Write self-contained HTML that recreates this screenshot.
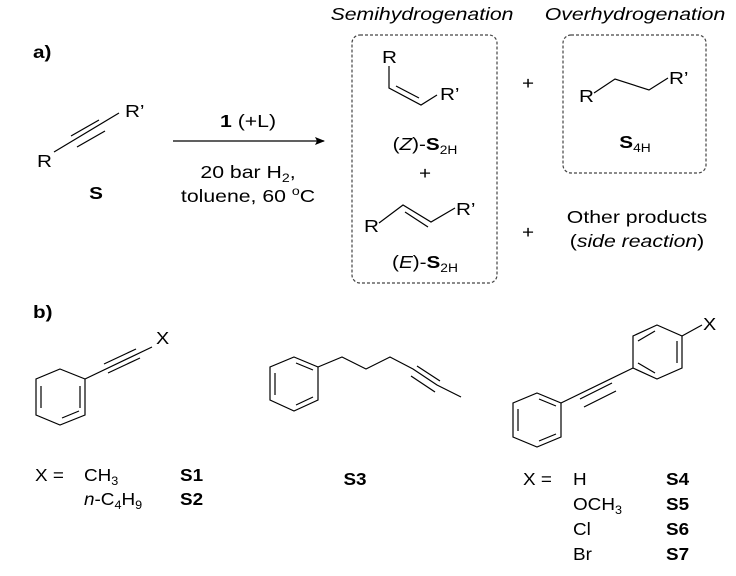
<!DOCTYPE html>
<html><head><meta charset="utf-8"><style>
html,body{margin:0;padding:0;background:#fff;}
svg{display:block;font-family:"Liberation Sans",Arial,sans-serif;}
</style></head><body>
<svg width="736" height="576" viewBox="0 0 736 576" xmlns="http://www.w3.org/2000/svg">
<defs><marker id="ah" markerWidth="10" markerHeight="8" refX="9" refY="4" orient="auto" markerUnits="userSpaceOnUse"><path d="M0,0 L10,4 L0,8 L2,4 Z" fill="#000"/></marker></defs>
<g fill="#000" font-size="18">
<text transform="translate(33,58) scale(1.15,1)" font-weight="bold">a)</text>
<text transform="translate(37,167) scale(1.15,1)">R</text>
<text transform="translate(125,117) scale(1.15,1)">R’</text>
<text transform="translate(96,199) scale(1.15,1)" font-weight="bold" text-anchor="middle">S</text>
<text transform="translate(248,127) scale(1.18,1)" text-anchor="middle"><tspan font-weight="bold">1</tspan> (+L)</text>
<text transform="translate(248,178) scale(1.18,1)" text-anchor="middle">20 bar H<tspan font-size="12" dy="4">2</tspan><tspan dy="-4">,</tspan></text>
<text transform="translate(248,202) scale(1.18,1)" text-anchor="middle">toluene, 60 <tspan font-size="12" dy="-7">o</tspan><tspan dy="7">C</tspan></text>
<text transform="translate(422,20) scale(1.18,1)" text-anchor="middle" font-style="italic">Semihydrogenation</text>
<text transform="translate(635,20) scale(1.18,1)" text-anchor="middle" font-style="italic">Overhydrogenation</text>
<text transform="translate(382,63) scale(1.15,1)">R</text>
<text transform="translate(440,100) scale(1.15,1)">R’</text>
<text transform="translate(425,150) scale(1.15,1)" text-anchor="middle">(<tspan font-style="italic">Z</tspan>)-<tspan font-weight="bold">S</tspan><tspan font-size="12" dy="4">2H</tspan></text>
<text transform="translate(425,179) scale(1.15,1)" text-anchor="middle">+</text>
<text transform="translate(364,232) scale(1.15,1)">R</text>
<text transform="translate(456,215) scale(1.15,1)">R’</text>
<text transform="translate(425,268) scale(1.15,1)" text-anchor="middle">(<tspan font-style="italic">E</tspan>)-<tspan font-weight="bold">S</tspan><tspan font-size="12" dy="4">2H</tspan></text>
<text transform="translate(528,89) scale(1.15,1)" text-anchor="middle">+</text>
<text transform="translate(528,238) scale(1.15,1)" text-anchor="middle">+</text>
<text transform="translate(579,102) scale(1.15,1)">R</text>
<text transform="translate(669,84) scale(1.15,1)">R’</text>
<text transform="translate(635,148) scale(1.15,1)" text-anchor="middle"><tspan font-weight="bold">S</tspan><tspan font-size="12" dy="4">4H</tspan></text>
<text transform="translate(637,223) scale(1.18,1)" text-anchor="middle">Other products</text>
<text transform="translate(637,247) scale(1.18,1)" text-anchor="middle">(<tspan font-style="italic">side reaction</tspan>)</text>
<text transform="translate(33,318) scale(1.15,1)" font-weight="bold">b)</text>
<text transform="translate(156,344) scale(1.1,1)">X</text>
<text transform="translate(703,330) scale(1.1,1)">X</text>
<text transform="translate(35,481) scale(1.05,1)">X =</text>
<text transform="translate(84,481) scale(1.05,1)">CH<tspan font-size="12" dy="4">3</tspan></text>
<text transform="translate(180,481) scale(1.05,1)" font-weight="bold">S1</text>
<text transform="translate(84,505) scale(1.05,1)"><tspan font-style="italic">n</tspan>-C<tspan font-size="12" dy="4">4</tspan><tspan dy="-4">H</tspan><tspan font-size="12" dy="4">9</tspan></text>
<text transform="translate(180,505) scale(1.05,1)" font-weight="bold">S2</text>
<text transform="translate(355,485) scale(1.05,1)" font-weight="bold" text-anchor="middle">S3</text>
<text transform="translate(523,485) scale(1.05,1)">X =</text>
<text transform="translate(573,485) scale(1.05,1)">H</text>
<text transform="translate(666,485) scale(1.05,1)" font-weight="bold">S4</text>
<text transform="translate(573,510) scale(1.05,1)">OCH<tspan font-size="12" dy="4">3</tspan></text>
<text transform="translate(666,510) scale(1.05,1)" font-weight="bold">S5</text>
<text transform="translate(573,535) scale(1.05,1)">Cl</text>
<text transform="translate(666,535) scale(1.05,1)" font-weight="bold">S6</text>
<text transform="translate(573,560) scale(1.05,1)">Br</text>
<text transform="translate(666,560) scale(1.05,1)" font-weight="bold">S7</text>
</g>
<g stroke="#000" stroke-width="1.2" fill="none">
<line x1="54" y1="152" x2="119" y2="113"/>
<line x1="71" y1="136" x2="99" y2="120"/>
<line x1="77" y1="147" x2="105" y2="131"/>
<line x1="173" y1="141" x2="324" y2="141" marker-end="url(#ah)"/>
<rect x="352" y="35" width="145" height="248" rx="8" stroke-dasharray="3,2" stroke="#444"/>
<rect x="563" y="35" width="143" height="138" rx="8" stroke-dasharray="3,2" stroke="#444"/>
<polyline points="389,66 389,88 421,105 437,95"/>
<line x1="396" y1="86" x2="419" y2="98"/>
<polyline points="379,223 403,205 431,222 455,208"/>
<line x1="405" y1="212" x2="428" y2="227"/>
<polyline points="594,93 615,79 649,90 668,78"/>
<polygon points="60,369 85,379 85,415 60,425 36,415 36,379"/>
<line x1="80" y1="386" x2="80" y2="408"/><line x1="41" y1="386" x2="41" y2="408"/><line x1="62" y1="418" x2="79" y2="411"/>
<line x1="85" y1="379" x2="152" y2="347"/>
<line x1="104" y1="364" x2="136" y2="349"/><line x1="108" y1="373" x2="140" y2="358"/>
<polygon points="294,357 318,367 318,400 294,411 270,400 270,367"/>
<line x1="275" y1="373" x2="275" y2="395"/><line x1="296" y1="363" x2="313" y2="370"/><line x1="296" y1="405" x2="313" y2="397"/>
<polyline points="318,367 342,357 366,369 390,357 413,369 437,385 461,397"/>
<line x1="411" y1="376" x2="435" y2="392"/><line x1="417" y1="366" x2="440" y2="381"/>
<polygon points="537,393 561,403 561,437 537,447 513,437 513,403"/>
<line x1="518" y1="409" x2="518" y2="431"/><line x1="539" y1="399" x2="556" y2="406"/><line x1="539" y1="441" x2="556" y2="434"/>
<polygon points="657,325 682,336 682,368 657,379 633,368 633,336"/>
<line x1="677" y1="341" x2="677" y2="363"/><line x1="638" y1="341" x2="655" y2="331"/><line x1="638" y1="363" x2="655" y2="373"/>
<line x1="561" y1="403" x2="633" y2="368"/>
<line x1="580" y1="399" x2="612" y2="383"/><line x1="584" y1="407" x2="616" y2="391"/>
<line x1="682" y1="336" x2="702" y2="325"/>
</g>
</svg>
</body></html>
